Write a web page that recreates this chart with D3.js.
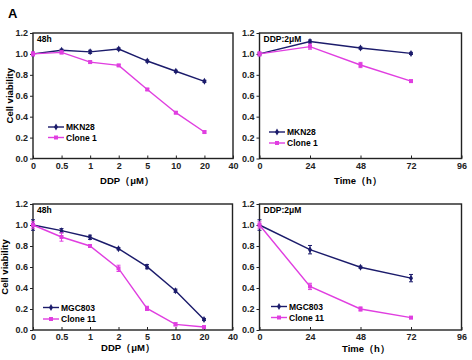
<!DOCTYPE html>
<html><head><meta charset="utf-8">
<script src="https://cdn.jsdelivr.net/npm/d3@7/dist/d3.min.js"></script>
<style>body{margin:0;background:#fff}svg{display:block;font-family:Arial,"Liberation Sans",sans-serif}</style>
</head><body><svg id="c" width="472" height="360"></svg>
<script>
const doseCats = ["0","0.5","1","2","5","10","20","40"];
const timeTicks = [0,24,48,72,96];
const yTicks = [0,0.2,0.4,0.6,0.8,1.0,1.2];
const times = [0,24,48,72];

const mkn28Dose = [1.0,1.035,1.02,1.047,0.932,0.834,0.738];
const mkn28DoseErr = [0.01,0.01,0.015,0.01,0.01,0.01,0.01];
const clone1Dose = [1.0,1.015,0.922,0.89,0.66,0.438,0.253];
const clone1DoseErr = [0.02,0.015,0.01,0.01,0.01,0.01,0.01];

const mkn28Time = [1.0,1.118,1.056,1.005];
const mkn28TimeErr = [0.01,0.015,0.01,0.01];
const clone1Time = [1.0,1.07,0.894,0.74];
const clone1TimeErr = [0.02,0.025,0.025,0.01];

const mgc803Dose = [1.0,0.946,0.883,0.774,0.603,0.374,0.10];
const mgc803DoseErr = [0.05,0.02,0.02,0.01,0.02,0.015,0.01];
const clone11Dose = [1.0,0.886,0.80,0.587,0.206,0.054,0.028];
const clone11DoseErr = [0.03,0.04,0.01,0.03,0.02,0.015,0.01];

const mgc803Time = [1.0,0.765,0.598,0.494];
const mgc803TimeErr = [0.05,0.04,0.01,0.035];
const clone11Time = [1.0,0.415,0.2,0.118];
const clone11TimeErr = [0.03,0.03,0.02,0.01];

const NAVY = "#1b1b6b", PINK = "#e03ee0";
const svg = d3.select("#c");

svg.append("text").attr("x",8).attr("y",18).attr("font-size",13).attr("font-weight","bold").text("A");

function panel(o){
  const g = svg.append("g");
  const y = d3.scaleLinear().domain([0,1.2]).range([o.bottom,o.top]);
  let x, xs;
  if(o.type==="dose"){
    x = d3.scalePoint().domain(doseCats).range([o.left,o.right]);
    xs = i => x(doseCats[i]);
  } else {
    x = d3.scaleLinear().domain([0,96]).range([o.left,o.right]);
    xs = i => x(times[i]);
  }
  // frame
  g.append("rect").attr("x",o.left).attr("y",o.top).attr("width",o.right-o.left).attr("height",o.bottom-o.top)
   .attr("fill","none").attr("stroke","#222").attr("stroke-width",1.4);
  // y axis
  const ya = d3.axisLeft(y).tickValues(yTicks).tickSize(3).tickPadding(2).tickFormat(d3.format(".1f"));
  const yg = g.append("g").attr("transform",`translate(${o.left},0)`).call(ya);
  yg.select(".domain").remove();
  yg.selectAll("line").attr("stroke","#222");
  yg.selectAll("text").attr("font-size",9).attr("font-weight","bold").attr("fill","#222");
  // x axis
  const xa = o.type==="dose" ? d3.axisBottom(x).tickSize(-3).tickPadding(4)
                             : d3.axisBottom(x).tickValues(timeTicks).tickSize(-3).tickPadding(4);
  const xg = g.append("g").attr("transform",`translate(0,${o.bottom})`).call(xa);
  xg.select(".domain").remove();
  xg.selectAll("line").attr("stroke","#222");
  xg.selectAll("text").attr("font-size",9).attr("font-weight","bold").attr("fill","#222");
  // labels
  g.append("text").attr("x",o.left+4).attr("y",o.top+9).attr("font-size",8.5).attr("font-weight","bold").text(o.tag);
  if(o.ylab){
    g.append("text").attr("transform",`translate(${o.ylabX},${(o.top+o.bottom)/2}) rotate(-90)`)
     .attr("text-anchor","middle").attr("font-size",9.5).attr("font-weight","bold").text("Cell viability");
  }
  g.append("text").attr("x",o.xlabX).attr("y",o.xlabY).attr("text-anchor","middle")
   .attr("font-size",9.5).attr("font-weight","bold").text(o.xlab);
  // series
  o.series.forEach(s=>{
    const pts = s.v.map((v,i)=>({x:xs(i),y:y(v),e:s.e[i],v}));
    g.append("path").datum(pts).attr("fill","none").attr("stroke",s.c).attr("stroke-width",1.4)
     .attr("d",d3.line().x(d=>d.x).y(d=>d.y));
    pts.forEach(p=>{
      const y1=y(p.v+p.e), y2=y(p.v-p.e);
      g.append("line").attr("x1",p.x).attr("x2",p.x).attr("y1",y1).attr("y2",y2).attr("stroke",s.c).attr("stroke-width",1);
      [y1,y2].forEach(yy=>g.append("line").attr("x1",p.x-2).attr("x2",p.x+2).attr("y1",yy).attr("y2",yy).attr("stroke",s.c).attr("stroke-width",1));
    });
    g.selectAll(null).data(pts).enter().append("path")
     .attr("transform",d=>`translate(${d.x},${d.y})`)
     .attr("d",d3.symbol().type(s.sym).size(s.sym===d3.symbolDiamond?14:16)).attr("fill",s.c);
  });
  // legend
  o.series.forEach((s,i)=>{
    const ly = o.legY + i*o.legDy;
    g.append("line").attr("x1",o.legX).attr("x2",o.legX+16).attr("y1",ly).attr("y2",ly).attr("stroke",s.c).attr("stroke-width",1.4);
    g.append("path").attr("transform",`translate(${o.legX+8},${ly})`)
     .attr("d",d3.symbol().type(s.sym).size(s.sym===d3.symbolDiamond?14:16)).attr("fill",s.c);
    g.append("text").attr("x",o.legX+18).attr("y",ly+3).attr("font-size",8.5).attr("font-weight","bold").text(s.name);
  });
}

panel({type:"dose",left:33,right:233,top:33,bottom:158.5,tag:"48h",ylab:true,ylabX:13,
  xlab:"DDP（μM）",xlabX:127,xlabY:184,legX:48,legY:127,legDy:10.5,
  series:[{name:"MKN28",v:mkn28Dose,e:mkn28DoseErr,c:NAVY,sym:d3.symbolDiamond},
          {name:"Clone 1",v:clone1Dose,e:clone1DoseErr,c:PINK,sym:d3.symbolSquare}]});
panel({type:"time",left:259.5,right:461.5,top:33,bottom:158.5,tag:"DDP:2μM",ylab:false,
  xlab:"Time（h）",xlabX:358,xlabY:184,legX:269,legY:132,legDy:11,
  series:[{name:"MKN28",v:mkn28Time,e:mkn28TimeErr,c:NAVY,sym:d3.symbolDiamond},
          {name:"Clone 1",v:clone1Time,e:clone1TimeErr,c:PINK,sym:d3.symbolSquare}]});
panel({type:"dose",left:33,right:232.5,top:204,bottom:330,tag:"48h",ylab:true,ylabX:8,
  xlab:"DDP（μM）",xlabX:128,xlabY:351,legX:43,legY:307.5,legDy:11.5,
  series:[{name:"MGC803",v:mgc803Dose,e:mgc803DoseErr,c:NAVY,sym:d3.symbolDiamond},
          {name:"Clone 11",v:clone11Dose,e:clone11DoseErr,c:PINK,sym:d3.symbolSquare}]});
panel({type:"time",left:259.5,right:461.5,top:204,bottom:330,tag:"DDP:2μM",ylab:false,
  xlab:"Time（h）",xlabX:366,xlabY:352,legX:271,legY:306.5,legDy:11,
  series:[{name:"MGC803",v:mgc803Time,e:mgc803TimeErr,c:NAVY,sym:d3.symbolDiamond},
          {name:"Clone 11",v:clone11Time,e:clone11TimeErr,c:PINK,sym:d3.symbolSquare}]});
</script></body></html>
